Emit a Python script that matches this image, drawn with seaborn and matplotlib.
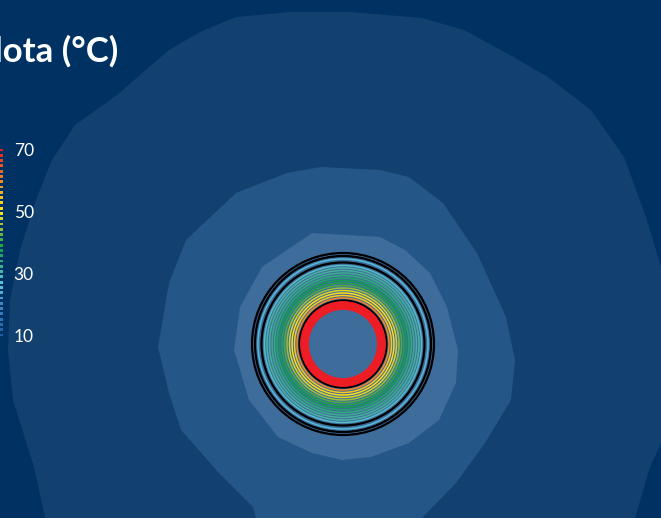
import numpy as np
import seaborn as sns
import matplotlib.pyplot as plt
from matplotlib.colors import LinearSegmentedColormap
from matplotlib.patches import Circle

plt.rcParams['font.family'] = ['Lato', 'DejaVu Sans']

# soil temperature zones around the pipe (pixel coords)
bg_color = '#003163'
zone_colors = ['#13416f', '#245687', '#3e6c9b']

zone1_x = [350, 422, 464, 510, 548, 591, 624, 646, 661, 675, 672, 650, 635, 630,
           50, 34, 13, 8, 10, 20, 37, 52, 75, 117, 140, 169, 200, 236, 290]
zone1_y = [12, 18, 30, 55, 77, 110, 157, 217, 267, 340, 420, 467, 518, 540,
           540, 467, 400, 350, 300, 250, 197, 160, 125, 95, 75, 50, 32, 17, 12]

zone2_x = [321, 380, 409, 443, 477, 506, 515, 511, 485, 456, 422, 415,
           262, 253, 219, 181, 169, 158, 169, 186, 236, 287]
zone2_y = [167, 170, 177, 203, 253, 317, 360, 400, 443, 483, 518, 540,
           540, 507, 473, 430, 393, 347, 283, 240, 193, 173]

zone3_x = [312, 380, 405, 430, 447, 458, 456, 439, 409, 371, 342, 312, 278,
           249, 234, 240, 262, 287]
zone3_y = [233, 237, 250, 273, 307, 350, 383, 420, 443, 457, 460, 453, 437,
           400, 350, 307, 267, 250]

# pipe cross-section
pipe_center = (343, 344)
ring_radius = [46, 48.5, 51, 53.5, 56, 58.5, 61, 63.5, 66, 68.5, 71, 73.5, 76, 78.5, 85]
ring_temp = [60, 53, 51, 48, 45, 41, 39, 38, 36, 34, 33, 32, 31, 28, 25]
wall_radius = [43.5, 81.5, 88, 91]
hot_radius = 38.5
hot_temp = 70

# legend scale
legend_temps = np.linspace(10, 70, 36)
legend_ticks = [10, 30, 50, 70]

cmap = LinearSegmentedColormap.from_list('teplota', [
    (0.0, '#1d5fa0'), (10 / 60, '#3f87c4'), (16 / 60, '#5cc3dd'),
    (22 / 60, '#45b09a'), (28 / 60, '#0ea04c'), (35 / 60, '#9dbf3c'),
    (40 / 60, '#ffe41a'), (47 / 60, '#f7a623'), (53 / 60, '#ef6a24'),
    (1.0, '#e31e24')])

def tcolor(t):
    return cmap((t - 10) / 60)

fig = plt.figure(figsize=(6.61, 5.18), dpi=100)
fig.patch.set_facecolor(bg_color)
ax = fig.add_axes([0, 0, 1, 1])
ax.set_facecolor(bg_color)
ax.set_xlim(0, 661)
ax.set_ylim(518, 0)
ax.axis('off')

for xs, ys, c in [(zone1_x, zone1_y, zone_colors[0]),
                  (zone2_x, zone2_y, zone_colors[1]),
                  (zone3_x, zone3_y, zone_colors[2])]:
    ax.fill(xs, ys, color=c, lw=0)

for r, t in zip(ring_radius, ring_temp):
    ax.add_patch(Circle(pipe_center, r, fill=False, ec=tcolor(t), lw=1.1))
for r in wall_radius:
    ax.add_patch(Circle(pipe_center, r, fill=False, ec='black', lw=1.6))
ax.add_patch(Circle(pipe_center, hot_radius, fill=False, ec='#ee1c25', lw=6.3))

ax.text(118, 51, 'Teplota (°C)', ha='right', va='center', color='white',
        fontsize=25, fontweight='bold')

# dotted colour scale on the left
cax = fig.add_axes([0, (518 - 335) / 518, 4 / 661, 185 / 518])
sns.scatterplot(x=np.full(len(legend_temps), 1.2), y=legend_temps, hue=legend_temps,
                palette=cmap, hue_norm=(10, 70), marker='s', s=4.5, linewidth=0,
                legend=False, ax=cax, clip_on=False)
cax.set_xlim(0, 4)
cax.set_ylim(10, 70)
cax.patch.set_alpha(0)
for s in cax.spines.values():
    s.set_visible(False)
cax.set_xticks([])
cax.set_xlabel('')
cax.set_ylabel('')
cax.yaxis.tick_right()
cax.set_yticks(legend_ticks)
cax.set_yticklabels([str(t) for t in legend_ticks])
cax.tick_params(axis='y', length=0, pad=7, labelcolor='white', labelsize=12.5)

fig.savefig('out.png', dpi=100, facecolor=bg_color)
